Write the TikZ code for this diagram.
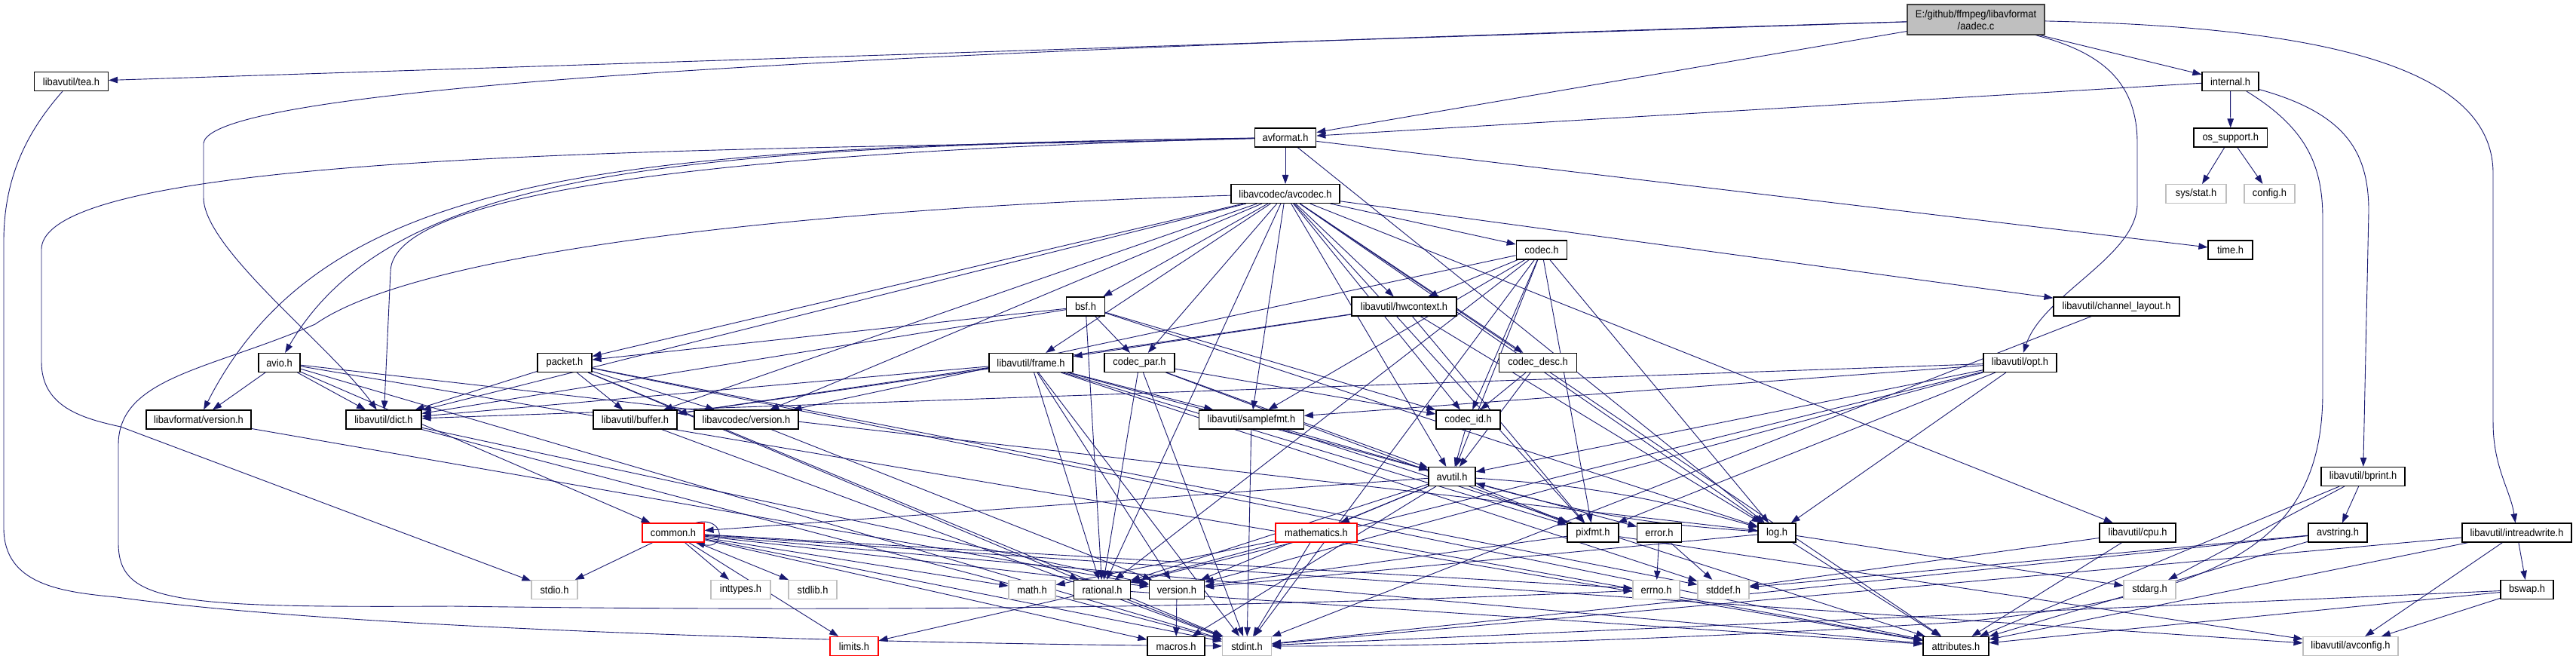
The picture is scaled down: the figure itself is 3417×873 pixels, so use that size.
\documentclass[tikz,border=0pt]{standalone}
\usepackage{fontspec}
\setmainfont{Liberation Sans}[FakeStretch=0.92]
\usetikzlibrary{arrows.meta}
\definecolor{edgec}{HTML}{191970}
\definecolor{graybd}{HTML}{BFBFBF}
\definecolor{mainbd}{HTML}{404040}
\definecolor{mainfill}{HTML}{BFBFBF}
\pgfdeclarelayer{bg}
\pgfsetlayers{bg,main}
\newcommand\nfont{\fontsize{14}{16}\selectfont}
\newcommand\edg[2]{\draw[edge] (#1) -- (#2);}
\begin{document}
\begin{tikzpicture}[x=1pt,y=-1pt,
  nb/.style={draw=black, line width=1.2pt, minimum height=25pt, inner sep=0pt, font=\nfont, fill=white},
  ng/.style={nb, draw=graybd},
  nr/.style={nb, draw=red},
  nmain/.style={nb, draw=mainbd, fill=mainfill, minimum height=40pt, align=center},
  edge/.style={draw=edgec, line width=0.9pt, -{Triangle[length=12pt,width=8.5pt]}}]
\useasboundingbox (0,0) rectangle (3417,873);
% nodes
\node[nmain, minimum width=182pt] (main) at (2621,26) {E:/github/ffmpeg/libavformat\\/aadec.c};
\node[nb, minimum width=98pt] (tea) at (94.5,108) {libavutil/tea.h};
\node[nb, minimum width=75pt] (internal) at (2958.5,108) {internal.h};
\node[nb, minimum width=81.5pt] (avformat) at (1705,182.5) {avformat.h};
\node[nb, minimum width=97.5pt] (ossupport) at (2958.75,182.5) {os\_support.h};
\node[ng, minimum width=80pt] (sysstat) at (2913,257) {sys/stat.h};
\node[ng, minimum width=67pt] (config) at (3010.5,257) {config.h};
\node[nb, minimum width=144pt] (avcodec) at (1705,257) {libavcodec/avcodec.h};
\node[nb, minimum width=67.5pt] (codec) at (2045,331.5) {codec.h};
\node[nb, minimum width=59pt] (time) at (2958.5,331.5) {time.h};
\node[nb, minimum width=50.5pt] (bsf) at (1440,406.5) {bsf.h};
\node[nb, minimum width=139pt] (hwcontext) at (1862.5,406.5) {libavutil/hwcontext.h};
\node[nb, minimum width=167pt] (chlayout) at (2807.5,406.5) {libavutil/channel\_layout.h};
\node[nb, minimum width=55pt] (avio) at (370.5,481) {avio.h};
\node[nb, minimum width=72pt] (packet) at (749,481) {packet.h};
\node[nb, minimum width=111pt] (frame) at (1367.5,481) {libavutil/frame.h};
\node[nb, minimum width=93pt] (codecpar) at (1511.5,481) {codec\_par.h};
\node[nb, minimum width=102.5pt] (codecdesc) at (2040,481) {codec\_desc.h};
\node[nb, minimum width=97pt] (opt) at (2679.5,481) {libavutil/opt.h};
\node[nb, minimum width=139pt] (lfversion) at (263.5,556.5) {libavformat/version.h};
\node[nb, minimum width=100pt] (dict) at (509,556.5) {libavutil/dict.h};
\node[nb, minimum width=111pt] (buffer) at (842.5,556.5) {libavutil/buffer.h};
\node[nb, minimum width=138pt] (lcversion) at (990,556.5) {libavcodec/version.h};
\node[nb, minimum width=138.5pt] (samplefmt) at (1660,556.5) {libavutil/samplefmt.h};
\node[nb, minimum width=85pt] (codecid) at (1947.5,556.5) {codec\_id.h};
\node[nb, minimum width=62pt] (avutil) at (1926,632) {avutil.h};
\node[nb, minimum width=111pt] (bprint) at (3134.5,632) {libavutil/bprint.h};
\node[nr, minimum width=82pt] (common) at (893,706.5) {common.h};
\node[nr, minimum width=108pt] (mathematics) at (1746,706.5) {mathematics.h};
\node[nb, minimum width=68pt] (pixfmt) at (2113,706.5) {pixfmt.h};
\node[nb, minimum width=58.5pt] (error) at (2201,706.5) {error.h};
\node[nb, minimum width=50pt] (log) at (2357,706.5) {log.h};
\node[nb, minimum width=101pt] (cpu) at (2835.5,706.5) {libavutil/cpu.h};
\node[nb, minimum width=78pt] (avstring) at (3101,706.5) {avstring.h};
\node[nb, minimum width=145pt] (irw) at (3338.5,706.5) {libavutil/intreadwrite.h};
\node[ng, minimum width=61pt] (stdio) at (735.5,782) {stdio.h};
\node[ng, minimum width=79pt] (inttypes) at (982.5,782) {inttypes.h};
\node[ng, minimum width=64pt] (stdlib) at (1078,782) {stdlib.h};
\node[ng, minimum width=62pt] (math) at (1369,782) {math.h};
\node[nb, minimum width=74.5pt] (rational) at (1462,782) {rational.h};
\node[nb, minimum width=73pt] (version) at (1561,782) {version.h};
\node[ng, minimum width=62pt] (errno) at (2197,782) {errno.h};
\node[ng, minimum width=68pt] (stddef) at (2286,782) {stddef.h};
\node[ng, minimum width=69pt] (stdarg) at (2851.5,782) {stdarg.h};
\node[nb, minimum width=70pt] (bswap) at (3352,782) {bswap.h};
\node[nr, minimum width=64pt] (limits) at (1133,857) {limits.h};
\node[nb, minimum width=76pt] (macros) at (1560,857) {macros.h};
\node[ng, minimum width=65pt] (stdint) at (1654,857) {stdint.h};
\node[nb, minimum width=87pt] (attributes) at (2594.5,857) {attributes.h};
\node[ng, minimum width=126pt] (avconfig) at (3118,857) {libavutil/avconfig.h};

\begin{pgfonlayer}{bg}
\fill[white] (0,0) rectangle (3417,873);
% main
\edg{main}{tea}
\edg{main}{avformat}
\edg{main}{internal}
\draw[edge] (main) .. controls (1500,60) and (280,100) .. (270,190) -- (270,262) .. controls (270,330) and (440,460) .. (dict);
\draw[edge] (main) .. controls (2790,70) and (2835,110) .. (2835,190) -- (2835,270) .. controls (2835,340) and (2710,390) .. (opt);
\draw[edge] (main) .. controls (3050,35) and (3307,80) .. (3307,230) -- (3307,560) .. controls (3307,620) and (3330,650) .. (irw);
% tea
\draw[edge] (tea) .. controls (40,170) and (5,230) .. (5,320) -- (5,700) .. controls (5,775) and (80,785) .. (155,792) .. controls (500,840) and (1300,855) .. (stdint);
% internal
\edg{internal}{avformat}
\edg{internal}{ossupport}
\draw[edge] (internal) .. controls (3110,150) and (3142,200) .. (3142,280) -- (bprint);
\draw[edge] (internal) .. controls (3060,170) and (3081,220) .. (3081,290) -- (3081,520) .. controls (3081,720) and (2950,790) .. (2600,825) .. controls (2200,850) and (1900,857) .. (stdint);
\edg{ossupport}{sysstat}
\edg{ossupport}{config}
% avformat
\edg{avformat}{avcodec}
\edg{avformat}{time}
\edg{avformat}{log}
\draw[edge] (avformat) .. controls (1000,200) and (520,250) .. (518,360) -- (dict);
\draw[edge] (avformat) .. controls (900,195) and (520,225) .. (avio);
\draw[edge] (avformat) .. controls (800,195) and (430,230) .. (lfversion);
\draw[edge] (avformat) .. controls (1100,200) and (60,190) .. (55,330) -- (55,480) .. controls (55,540) and (110,555) .. (160,566) -- (stdio);
% avcodec
\draw[edge] (avcodec) .. controls (1100,275) and (560,330) .. (418,430) .. controls (280,490) and (157,500) .. (157,590) -- (157,720) .. controls (157,800) and (230,806) .. (600,804) .. controls (1400,815) and (1900,795) .. (errno);
\edg{avcodec}{samplefmt}
\edg{avcodec}{attributes}
\edg{avcodec}{avutil}
\edg{avcodec}{buffer}
\edg{avcodec}{cpu}
\edg{avcodec}{chlayout}
\edg{avcodec}{dict}
\edg{avcodec}{frame}
\edg{avcodec}{hwcontext}
\edg{avcodec}{log}
\edg{avcodec}{pixfmt}
\edg{avcodec}{rational}
\edg{avcodec}{codec}
\edg{avcodec}{codecdesc}
\edg{avcodec}{codecpar}
\edg{avcodec}{codecid}
\edg{avcodec}{packet}
\edg{avcodec}{lcversion}
\edg{avcodec}{bsf}
% codec
\edg{codec}{stdint}
\edg{codec}{avutil}
\edg{codec}{hwcontext}
\edg{codec}{log}
\edg{codec}{pixfmt}
\edg{codec}{rational}
\edg{codec}{samplefmt}
\edg{codec}{codecid}
\edg{codec}{lcversion}
% bsf
\edg{bsf}{dict}
\edg{bsf}{log}
\edg{bsf}{rational}
\edg{bsf}{codecid}
\edg{bsf}{codecpar}
\edg{bsf}{packet}
% hwcontext
\edg{hwcontext}{buffer}
\edg{hwcontext}{frame}
\edg{hwcontext}{log}
\edg{hwcontext}{pixfmt}
\edg{chlayout}{stdint}
% avio
\edg{avio}{stdint}
\edg{avio}{attributes}
\edg{avio}{dict}
\edg{avio}{log}
\edg{avio}{lfversion}
\edg{avio}{common}
\edg{lfversion}{version}
\edg{dict}{stdint}
\edg{dict}{version}
% packet
\edg{packet}{stddef}
\edg{packet}{stdint}
\edg{packet}{attributes}
\edg{packet}{buffer}
\edg{packet}{dict}
\edg{packet}{rational}
\edg{packet}{lcversion}
% frame
\edg{frame}{stddef}
\edg{frame}{stdint}
\edg{frame}{avutil}
\edg{frame}{buffer}
\edg{frame}{dict}
\edg{frame}{rational}
\edg{frame}{samplefmt}
\edg{frame}{pixfmt}
\edg{frame}{version}
% codec_par
\edg{codecpar}{stdint}
\edg{codecpar}{avutil}
\edg{codecpar}{rational}
\edg{codecpar}{pixfmt}
\edg{codecpar}{codecid}
\edg{codecdesc}{avutil}
\edg{codecdesc}{codecid}
% opt
\edg{opt}{rational}
\edg{opt}{avutil}
\edg{opt}{dict}
\edg{opt}{log}
\edg{opt}{pixfmt}
\edg{opt}{samplefmt}
\edg{opt}{version}
\edg{buffer}{stdint}
\edg{lcversion}{version}
\edg{samplefmt}{stdint}
\edg{samplefmt}{avutil}
\edg{samplefmt}{attributes}
\edg{codecid}{avutil}
% avutil
\edg{avutil}{common}
\edg{avutil}{error}
\edg{avutil}{rational}
\edg{avutil}{version}
\edg{avutil}{macros}
\edg{avutil}{mathematics}
\draw[edge] (avutil) to[bend left=6] (log);
\edg{avutil}{pixfmt}
% bprint
\edg{bprint}{stdarg}
\edg{bprint}{attributes}
\edg{bprint}{avstring}
% common
\edg{common}{errno}
\edg{common}{inttypes}
\edg{common}{limits}
\edg{common}{math}
\edg{common}{stdint}
\edg{common}{stdio}
\edg{common}{stdlib}
\edg{common}{attributes}
\edg{common}{macros}
\edg{common}{version}
\edg{common}{avconfig}
\draw[edge] ([xshift=-12pt]common.north east) .. controls +(40,-10) and +(40,10) .. ([xshift=-12pt]common.south east);
% mathematics
\edg{mathematics}{stdint}
\edg{mathematics}{math}
\edg{mathematics}{attributes}
\edg{mathematics}{rational}
\edg{pixfmt}{avconfig}
\edg{pixfmt}{version}
\edg{error}{errno}
\edg{error}{stddef}
% log
\draw[edge] (log) to[bend left=6] (avutil);
\edg{log}{stdarg}
\edg{log}{attributes}
\edg{log}{version}
\edg{cpu}{stddef}
\edg{cpu}{attributes}
\edg{avstring}{stddef}
\edg{avstring}{stdint}
\edg{avstring}{attributes}
\edg{irw}{stdint}
\edg{irw}{avconfig}
\edg{irw}{attributes}
\edg{irw}{bswap}
\edg{bswap}{stdint}
\edg{bswap}{avconfig}
\edg{bswap}{attributes}
\edg{rational}{stdint}
\edg{rational}{limits}
\edg{rational}{attributes}
\edg{version}{macros}
\end{pgfonlayer}
\end{tikzpicture}
\end{document}
